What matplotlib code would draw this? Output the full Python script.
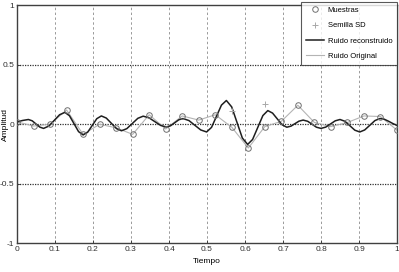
import numpy as np
import matplotlib
matplotlib.use("Agg")
import matplotlib.pyplot as plt

plt.rcParams['font.family'] = ['Liberation Sans Narrow', 'Liberation Sans', 'DejaVu Sans']

# samples (Muestras), 24 points evenly spaced over [0, 1]
sample_t = np.arange(24) / 23
sample_y = [0.02, -0.015, 0.0, 0.12, -0.085, 0.0, -0.03, -0.085,
            0.08, -0.04, 0.07, 0.035, 0.08, -0.025, -0.2, -0.02,
            0.025, 0.16, 0.015, -0.02, 0.015, 0.07, 0.065, -0.05]

# seed points (Semilla SD)
seed_t = [13 / 23, 15 / 23]
seed_y = [0.115, 0.17]

# reconstructed noise (Ruido reconstruido)
rec_t = [0.000, 0.015, 0.030, 0.040, 0.050, 0.060, 0.070, 0.084, 0.098, 0.112,
         0.126, 0.138, 0.150, 0.162, 0.174, 0.186, 0.198, 0.210, 0.222, 0.235,
         0.2485, 0.262, 0.275, 0.289, 0.3035, 0.318, 0.332, 0.347, 0.3625, 0.378,
         0.393, 0.404, 0.415, 0.426, 0.437, 0.4525, 0.468, 0.4835, 0.499, 0.512,
         0.525, 0.538, 0.551, 0.565, 0.579, 0.593, 0.607, 0.620, 0.6335, 0.647,
         0.660, 0.6725, 0.685, 0.6975, 0.710, 0.721, 0.7315, 0.742, 0.753, 0.765,
         0.7765, 0.788, 0.800, 0.8125, 0.825, 0.8375, 0.850, 0.863, 0.876, 0.889,
         0.902, 0.915, 0.9285, 0.942, 0.955, 0.966, 0.978, 0.989, 1.000]
rec_y = [0.020, 0.032, 0.040, 0.029, 0.0025, -0.024, -0.035, -0.015, 0.0325, 0.080,
         0.100, 0.072, 0.005, -0.062, -0.090, -0.067, -0.010, 0.047, 0.070, 0.052,
         0.0075, -0.037, -0.055, -0.037, 0.0065, 0.050, 0.068, 0.055, 0.0225, -0.010,
         -0.023, -0.013, 0.0125, 0.038, 0.048, 0.031, -0.0085, -0.048, -0.065, -0.026,
         0.0675, 0.161, 0.200, 0.146, 0.015, -0.116, -0.170, -0.128, -0.0275, 0.073,
         0.115, 0.094, 0.045, -0.004, -0.025, -0.016, 0.005, 0.026, 0.035, 0.025,
         0.0, -0.025, -0.035, -0.024, 0.0025, 0.029, 0.040, 0.025, -0.0125, -0.050,
         -0.065, -0.048, -0.0085, 0.031, 0.048, 0.043, 0.025, 0.006, -0.010]

xticks = [0, 0.1, 0.2, 0.3, 0.4, 0.5, 0.6, 0.7, 0.8, 0.9, 1]
xtick_labels = ['0', '0.1', '0.2', '0.3', '0.4', '0.5', '0.6', '0.7', '0.8', '0.9', '1']
yticks = [-1, -0.5, 0, 0.5, 1]
ytick_labels = ['-1', '-0.5', '0', '0.5', '1']

fig = plt.figure(figsize=(3.99, 2.72), dpi=100)
ax = fig.add_axes([0.0426, 0.1066, 0.9524, 0.8732])

for x in xticks[1:-1]:
    ax.axvline(x, color='#9a9a9a', lw=0.7, ls=(0, (2.5, 2.5)), zorder=0)
for y in [-0.5, 0, 0.5]:
    ax.axhline(y, color='#303030', lw=0.9, ls=(0, (1, 1)), zorder=0)

ax.plot(sample_t, sample_y, 'o', mfc='none', mec='#707070', ms=4, mew=0.7,
        label='Muestras', zorder=3)
ax.plot(seed_t, seed_y, '+', color='#a8a8a8', ms=4, mew=0.7, label='Semilla SD', zorder=3)
ax.plot(rec_t, rec_y, '-', color='#1e1e1e', lw=1.1, label='Ruido reconstruido', zorder=2)
ax.plot(sample_t, sample_y, '-', color='#b4b4b4', lw=0.8, label='Ruido Original', zorder=1)

ax.set_xlim(0, 1)
ax.set_ylim(-1, 1)
ax.set_xticks(xticks)
ax.set_xticklabels(xtick_labels)
ax.set_yticks(yticks)
ax.set_yticklabels(ytick_labels)
ax.tick_params(direction='in', length=2, width=0.6, labelsize=6, pad=2, colors='#303030')
for side in ['left', 'bottom', 'top', 'right']:
    ax.spines[side].set_color('#404040')
    ax.spines[side].set_linewidth(1.0)

ax.set_xlabel('Tiempo', fontsize=6, labelpad=4)
ax.set_ylabel('Amplitud', fontsize=6)
ax.yaxis.set_label_coords(-0.02, 0.5)

leg = ax.legend(loc='upper right', bbox_to_anchor=(1.0, 1.015), fontsize=5.5,
                frameon=True, fancybox=False, handlelength=2.4, borderpad=0.6,
                labelspacing=1.05, handletextpad=0.5, borderaxespad=0.0)
leg.get_frame().set_edgecolor('#303030')
leg.get_frame().set_linewidth(0.8)

fig.savefig('out.png', dpi=100)
